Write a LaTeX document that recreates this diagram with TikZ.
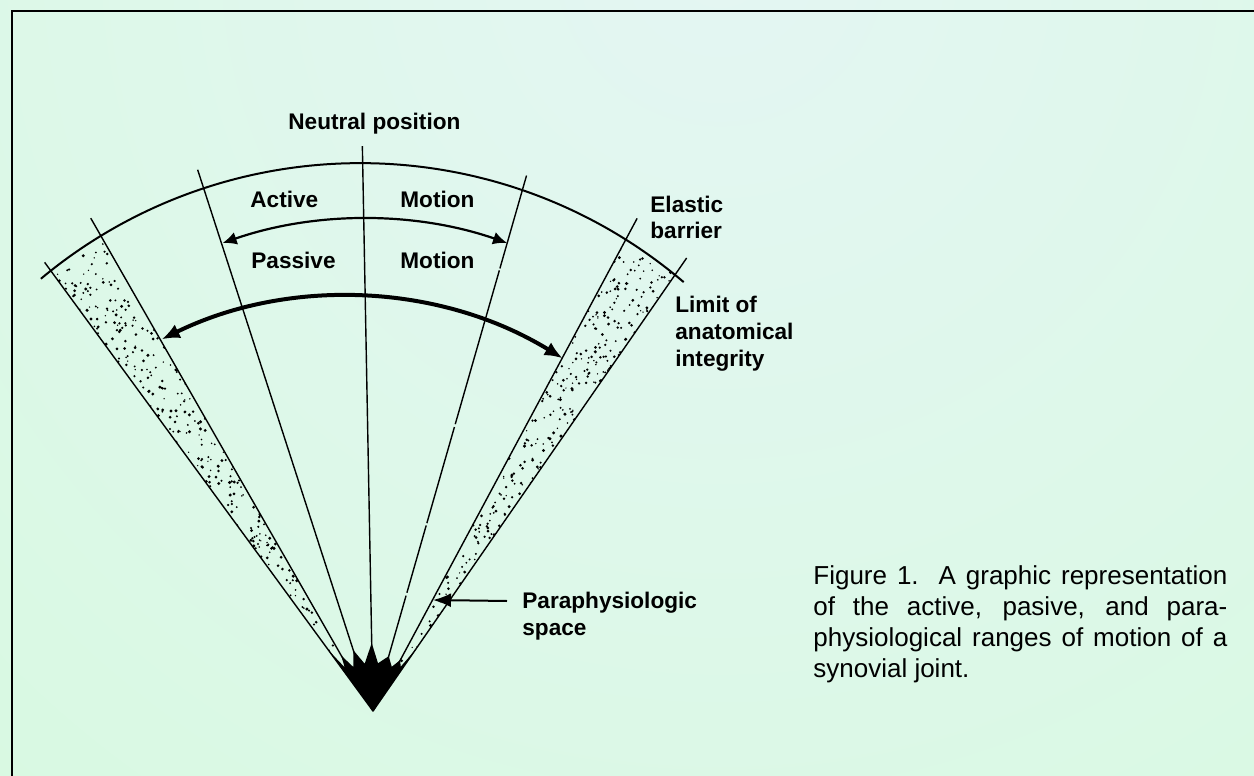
\documentclass[tikz,border=0pt]{standalone}
\usepackage{fontspec}
\setmainfont{Liberation Sans}
\usetikzlibrary{arrows.meta,calc}
\definecolor{bgin}{RGB}{228,246,243}
\definecolor{bgout}{RGB}{207,252,212}
\begin{document}
\begin{tikzpicture}[x=0.5pt,y=-0.5pt,
  lbl/.style={anchor=base west, inner sep=0pt, font=\fontsize{11.3}{13}\selectfont\bfseries},
  captext/.style={anchor=base west, inner sep=0pt, font=\fontsize{13}{15.5}\selectfont},
  ray/.style={line width=0.7pt, black},
  rim/.style={line width=1pt, black},
  activearrow/.style={line width=1.1pt, {Latex[length=7pt,width=6.5pt]}-{Latex[length=7pt,width=6.5pt]}},
  passivearrow/.style={line width=2pt, {Latex[length=9pt,width=7.5pt]}-{Latex[length=9pt,width=7.5pt]}},
  pointer/.style={line width=1pt, -{Latex[length=9pt,width=7pt]}},
  stipple/.style={fill=black}]
\useasboundingbox (0,0) rectangle (1254,776);
% background
\begin{scope}
  \clip (0,0) rectangle (1254,776);
  \shade[inner color=bgin, outer color=bgout] (720,-40) circle[radius=2000];
\end{scope}
% frame (left and top only)
\draw[line width=1pt] (11.5,776) -- (11.5,11) -- (1254,11);

% geometry
\coordinate (A) at (373,711);
\coordinate (O) at (360.3,662.1);
\coordinate (Oa) at (365,653);
\coordinate (Op) at (344.9,713.2);
\foreach \n/\a/\r in {L3/-126.2/556, L2/-119.8/568, L1/-107.95/569, C/-91.08/565, R1/-74/557, R2/-61.8/559, R3/-55.3/551}
  {\coordinate (\n) at ($(A)+(\a:\r)$);}

% stippled bands
\pgfmathsetseed{7}
\begin{scope}
  \clip (O) circle[radius=499];
  \clip (A) -- (L3) -- (L2) -- cycle;
  \foreach \i in {1,...,280} {
    \pgfmathsetmacro\rr{540*sqrt(rnd)}
    \pgfmathsetmacro\aa{-126.2+6.4*rnd}
    \pgfmathsetmacro\ds{0.7+1.0*rnd}
    \fill[stipple] ($(A)+(\aa:\rr)$) circle[radius=\ds];
  }
\end{scope}
\begin{scope}
  \clip (O) circle[radius=499];
  \clip (A) -- (R2) -- (R3) -- cycle;
  \foreach \i in {1,...,280} {
    \pgfmathsetmacro\rr{540*sqrt(rnd)}
    \pgfmathsetmacro\aa{-61.8+6.5*rnd}
    \pgfmathsetmacro\ds{0.7+1.0*rnd}
    \fill[stipple] ($(A)+(\aa:\rr)$) circle[radius=\ds];
  }
\end{scope}

% rays
\draw[ray] (A) -- (L3);
\draw[ray] (A) -- (L2);
\draw[ray] (A) -- (L1);
\draw[ray] (A) -- (C);
\draw[ray, dash pattern=on 60pt off 1.5pt on 35pt off 1.2pt on 50pt off 1.5pt on 80pt off 1pt] (A) -- (R1);
\draw[ray] (A) -- (R2);
\draw[ray] (A) -- (R3);

% outer arc
\draw[rim] ($(O)+(230.2:499)$) arc[start angle=230.2, end angle=310.4, radius=499];

% active and passive motion arrows
\draw[activearrow] ($(Oa)+(-109.15:434)$) arc[start angle=-109.15, end angle=-70.9, radius=434];
\draw[passivearrow] ($(Op)+(-116.1:416.4)$) arc[start angle=-116.1, end angle=-58.47, radius=416.4];

% black apex
\fill (A) -- ($(A)+(-126.2:75)$) -- ($(A)+(-123:52)$) -- ($(A)+(-119.8:64)$)
  -- ($(A)+(-114:48)$) -- ($(A)+(-107.95:64)$) -- ($(A)+(-100:48)$)
  -- ($(A)+(-91.08:68)$) -- ($(A)+(-84:48)$) -- ($(A)+(-74:57)$)
  -- ($(A)+(-67:48)$) -- ($(A)+(-61.8:58)$) -- ($(A)+(-58:52)$)
  -- ($(A)+(-55.3:75)$) -- cycle;

% labels
\node[lbl] (neutral) at (288,129) {Neutral position};
\node[lbl] (active) at (250,207) {Active};
\node[lbl] (motion1) at (400,207) {Motion};
\node[lbl] (passive) at (251,268) {Passive};
\node[lbl] (motion2) at (400,268) {Motion};
\node[lbl] (elastic1) at (650,212) {Elastic};
\node[lbl] (elastic2) at (650,238) {barrier};
\node[lbl] (limit1) at (675,312) {Limit of};
\node[lbl] (limit2) at (675,339) {anatomical};
\node[lbl] (limit3) at (675,366) {integrity};
\node[lbl] (para1) at (522,608) {Paraphysiologic};
\node[lbl] (para2) at (522,635) {space};

% pointer to paraphysiologic space
\coordinate (ptail) at (507,601);
\coordinate (phead) at (433,600);
\draw[pointer] (ptail) -- (phead);

% caption
\node[captext] (cap1) at (813,584) {\makebox[207pt][s]{Figure 1.\ \ A graphic representation}};
\node[captext] (cap2) at (813,615) {\makebox[207pt][s]{of the active, pasive, and para-}};
\node[captext] (cap3) at (813,646) {\makebox[207pt][s]{physiological ranges of motion of a}};
\node[captext] (cap4) at (813,677) {synovial joint.};
\end{tikzpicture}
\end{document}
